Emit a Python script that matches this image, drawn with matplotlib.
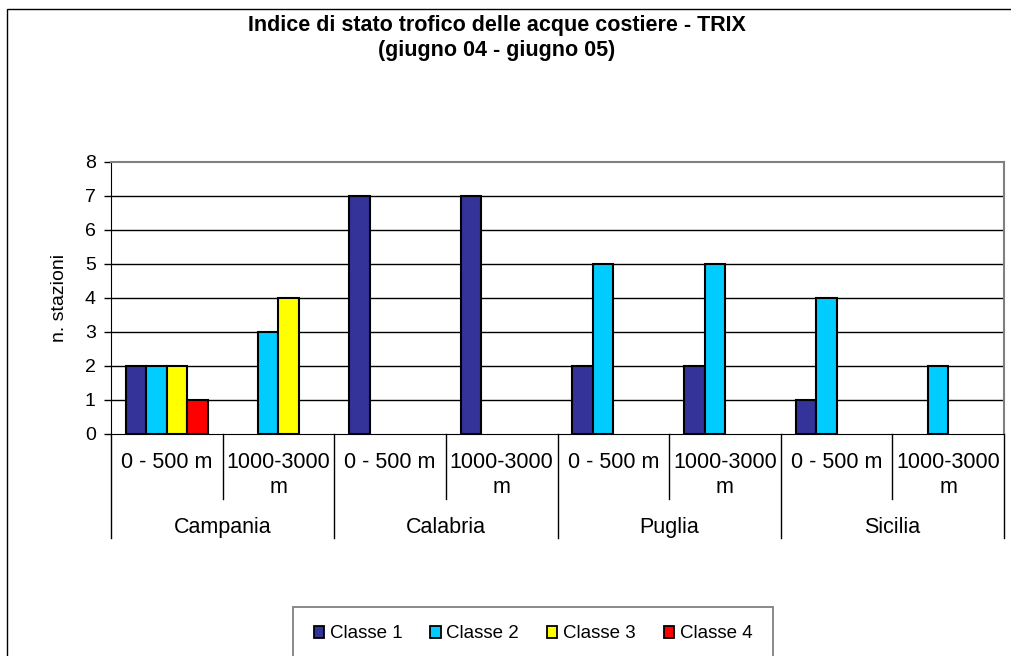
import matplotlib
matplotlib.use("Agg")
import matplotlib.pyplot as plt
from matplotlib.patches import Rectangle
from matplotlib.lines import Line2D
import numpy as np

plt.rcParams['font.family'] = ['Liberation Sans', 'DejaVu Sans']

regions = ["Campania", "Calabria", "Puglia", "Sicilia"]
depths = ["0 - 500 m", "1000-3000\nm"]
series_names = ["Classe 1", "Classe 2", "Classe 3", "Classe 4"]
classe1 = [2, 0, 7, 7, 2, 2, 1, 0]
classe2 = [2, 3, 0, 0, 5, 5, 4, 2]
classe3 = [2, 4, 0, 0, 0, 0, 0, 0]
classe4 = [1, 0, 0, 0, 0, 0, 0, 0]
colors = ["#333399", "#00CCFF", "#FFFF00", "#FF0000"]
title = "Indice di stato trofico delle acque costiere - TRIX\n(giugno 04 - giugno 05)"
ylabel = "n. stazioni"

W, H = 1011, 656
fig = plt.figure(figsize=(W / 100, H / 100), dpi=100)
fig.patch.set_facecolor("white")

# outer chart border
fig.patches.append(Rectangle((7 / W, -0.2), 1.2, 1 - 9 / H + 0.2, transform=fig.transFigure,
                             fill=False, edgecolor="black", linewidth=1.0, zorder=0))

left, right, top, bottom = 111, 1004, 162, 434
ax = fig.add_axes([left / W, 1 - bottom / H, (right - left) / W, (bottom - top) / H])

series = [classe1, classe2, classe3, classe4]
n = len(classe1)
x = np.arange(n)
bw = 0.183
handles = []
for i, (vals, c) in enumerate(zip(series, colors)):
    lws = [1.5 if v > 0 else 0 for v in vals]
    ax.bar(x + (i - 1.5) * bw, vals, width=bw, color=c, edgecolor="black",
           linewidth=lws, label=series_names[i], zorder=3)
    handles.append(Rectangle((0, 0), 1, 1, facecolor=c, edgecolor="black", linewidth=1.3))

ax.set_xlim(-0.5, n - 0.5)
ax.set_ylim(0, 8)
ax.set_yticks(range(0, 9))
ax.tick_params(axis='y', direction='out', length=5, width=1, labelsize=14, pad=6)
ax.set_xticks([])
for yv in range(1, 8):
    ax.axhline(yv, color="black", linewidth=1.0, zorder=1)
ax.spines['left'].set_color("black")
ax.spines['bottom'].set_color("black")
ax.spines['top'].set_color("#808080")
ax.spines['right'].set_color("#808080")
ax.spines['top'].set_linewidth(1.5)
ax.spines['right'].set_linewidth(1.5)

ax.set_ylabel(ylabel, fontsize=14, labelpad=12)

# multi-level category axis
tr = ax.get_xaxis_transform()
axh = bottom - top
def yfrac(py):
    return -(py - bottom) / axh

for b in np.arange(-0.5, n, 1.0):
    idx = int(b + 0.5)
    y2 = yfrac(538) if idx % 2 == 0 else yfrac(499)
    ax.add_line(Line2D([b, b], [0, y2], transform=tr, color="black", linewidth=1.0, clip_on=False))

line_base = [468, 493]
for i in range(n):
    for k, part in enumerate(depths[i % 2].split("\n")):
        ax.text(i, yfrac(line_base[k]), part, transform=tr, ha="center", va="baseline",
                fontsize=15.5)
for r, name in enumerate(regions):
    ax.text(2 * r + 0.5, yfrac(533), name, transform=tr, ha="center", va="baseline", fontsize=15.5)

fig.text(497 / W, 1 - 38 / H, title, ha="center", va="center", fontsize=15.5,
         fontweight="bold", linespacing=1.25)

# legend
fig.patches.append(Rectangle((293 / W, -0.05), (773 - 293) / W, 1 - 607 / H + 0.05,
                             transform=fig.transFigure, fill=False, edgecolor="#808080",
                             linewidth=1.3, zorder=5))
fig.legend(handles, series_names, loc="center", bbox_to_anchor=(533 / W, 1 - 634 / H), ncol=4,
           fontsize=13.5, frameon=False,
           handlelength=0.55, handleheight=0.55, handletextpad=0.3, columnspacing=1.5,
           borderpad=0, borderaxespad=0)

fig.savefig("out.png", dpi=100, facecolor="white")
